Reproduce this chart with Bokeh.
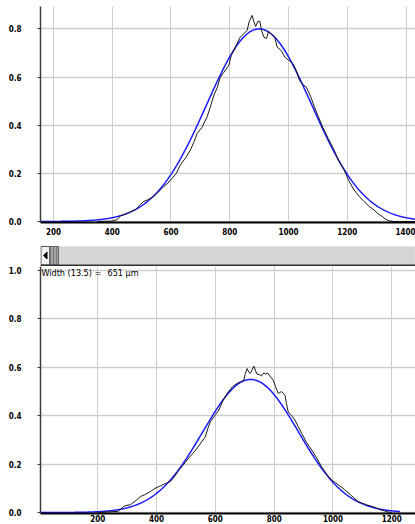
import numpy as np
from bokeh.plotting import figure
from bokeh.layouts import column
from bokeh.models import Range1d, FixedTicker, Label, NumeralTickFormatter
from bokeh.embed import file_html
from bokeh.resources import INLINE

# ---- upper profile: measured trace (position in µm, normalised intensity)
upper_pos = [350, 400, 417, 428, 445, 462, 480, 495, 507, 520, 541, 555, 575, 590,
             604, 618, 632, 650, 666, 678, 689, 705, 723, 735, 746, 757, 768, 780,
             797, 805, 814, 825, 836, 848, 859, 866, 876, 882, 888, 895, 902, 909,
             916, 925, 932, 939, 953, 961, 975, 987, 1000, 1015, 1025, 1037, 1048,
             1060, 1075, 1088, 1100, 1116, 1135, 1155, 1170, 1189, 1205, 1223, 1240,
             1257, 1275, 1291, 1305, 1319, 1330, 1342, 1360, 1440]
upper_val = [0.0, 0.002, 0.008, 0.024, 0.03, 0.041, 0.05, 0.07, 0.083, 0.09, 0.104,
             0.12, 0.145, 0.16, 0.18, 0.2, 0.235, 0.265, 0.297, 0.33, 0.366, 0.39,
             0.435, 0.48, 0.525, 0.555, 0.6, 0.62, 0.649, 0.69, 0.711, 0.74, 0.766,
             0.78, 0.794, 0.83, 0.856, 0.83, 0.81, 0.83, 0.832, 0.79, 0.766, 0.76,
             0.79, 0.78, 0.766, 0.725, 0.71, 0.683, 0.67, 0.656, 0.63, 0.587, 0.57,
             0.559, 0.52, 0.476, 0.44, 0.393, 0.345, 0.297, 0.255, 0.214, 0.17,
             0.131, 0.105, 0.083, 0.062, 0.048, 0.032, 0.021, 0.01, 0.003, 0.0, 0.0]
# gaussian fit of the upper profile
upper_fit_peak = 0.80
upper_fit_center = 900
upper_fit_width = 715          # full width at 13.5 % of peak
upper_fit_span = (150, 1440)

# ---- lower profile
lower_pos = [200, 270, 288, 300, 311, 330, 345, 362, 379, 395, 413, 430, 447, 462,
             476, 490, 504, 520, 538, 552, 566, 575, 583, 598, 612, 625, 640, 658,
             674, 685, 697, 702, 708, 714, 719, 725, 731, 737, 742, 750, 757, 765,
             771, 777, 785, 797, 805, 814, 825, 837, 842, 848, 860, 871, 882, 894,
             910, 928, 945, 961, 978, 995, 1018, 1040, 1063, 1086, 1115, 1142, 1160,
             1173, 1185, 1200]
lower_val = [0.0, 0.005, 0.025, 0.03, 0.032, 0.05, 0.066, 0.075, 0.087, 0.1, 0.11,
             0.12, 0.128, 0.15, 0.176, 0.195, 0.217, 0.24, 0.266, 0.29, 0.313, 0.35,
             0.375, 0.4, 0.424, 0.46, 0.492, 0.52, 0.534, 0.54, 0.547, 0.575, 0.595,
             0.58, 0.575, 0.59, 0.605, 0.585, 0.572, 0.57, 0.565, 0.577, 0.572,
             0.577, 0.565, 0.547, 0.52, 0.492, 0.5, 0.485, 0.45, 0.416, 0.4, 0.382,
             0.355, 0.327, 0.29, 0.258, 0.225, 0.19, 0.16, 0.135, 0.115, 0.094, 0.07,
             0.045, 0.032, 0.022, 0.012, 0.008, 0.003, 0.0]
lower_fit_peak = 0.55
lower_fit_center = 720
lower_fit_width = 651          # full width at 13.5 % of peak (label value)
lower_fit_span = (0, 1228)

# ---- ticks
upper_x_ticks = [200, 400, 600, 800, 1000, 1200, 1400]
upper_y_ticks = [0.0, 0.2, 0.4, 0.6, 0.8]
lower_x_ticks = [200, 400, 600, 800, 1000, 1200]
lower_y_ticks = [0.0, 0.2, 0.4, 0.6, 0.8, 1.0]

width_label = "Width (13.5) ="
width_value = "651 µm"

NARROW = "'DejaVu Sans Condensed', sans-serif"


def fit_curve(peak, center, w135, span):
    sigma = w135 / 4.0
    xs = np.linspace(span[0], span[1], 600)
    return xs, peak * np.exp(-((xs - center) ** 2) / (2 * sigma ** 2))


def style(p, xt, yt):
    p.xaxis.ticker = FixedTicker(ticks=xt)
    p.yaxis.ticker = FixedTicker(ticks=yt)
    p.yaxis.formatter = NumeralTickFormatter(format="0.0")
    p.xaxis.major_tick_line_color = None
    p.xaxis.minor_tick_line_color = None
    p.xaxis.major_tick_out = 0
    p.xaxis.major_tick_in = 0
    p.xaxis.minor_tick_out = 0
    p.xaxis.axis_line_color = "black"
    p.xaxis.axis_line_width = 2
    p.yaxis.axis_line_color = "#3c3c3c"
    p.yaxis.axis_line_width = 1.5
    p.yaxis.major_tick_line_color = "#3c3c3c"
    p.yaxis.major_tick_out = 3
    p.yaxis.major_tick_in = 0
    p.yaxis.minor_tick_line_color = None
    p.yaxis.major_label_standoff = 16
    for ax in (p.xaxis, p.yaxis):
        ax.major_label_text_font = NARROW
        ax.major_label_text_font_size = "8px"
        ax.major_label_text_font_style = "bold"
        ax.major_label_text_color = "black"
    p.xgrid.grid_line_color = "#cdcdcd"
    p.xgrid.grid_line_width = 1
    p.ygrid.grid_line_color = "#cdcdcd"
    p.ygrid.grid_line_width = 1.5
    p.outline_line_color = None
    p.background_fill_color = "white"
    p.border_fill_color = "white"


# ---- upper chart
top = figure(width=415, height=245, x_range=Range1d(156, 1432),
             y_range=Range1d(-0.004, 0.893), min_border_left=40, min_border_right=0,
             min_border_top=6, min_border_bottom=23, toolbar_location=None,
             output_backend="svg")
style(top, upper_x_ticks, upper_y_ticks)
top.xaxis.major_label_standoff = 5
fx, fy = fit_curve(upper_fit_peak, upper_fit_center, upper_fit_width, upper_fit_span)
top.line(fx, fy, color="#1a1aff", line_width=1.5)
top.line(upper_pos, upper_val, color="#1a1a1a", line_width=1)

# ---- scroll bar strip between the two charts (pixel coordinates)
bar = figure(width=415, height=21, x_range=Range1d(40, 415), y_range=Range1d(21, 0),
             x_axis_type=None, y_axis_type=None, min_border=0, min_border_left=40,
             min_border_right=0, toolbar_location=None, output_backend="svg")
bar.outline_line_color = None
bar.quad(left=40, right=415, top=1, bottom=19.5, fill_color="#d8d8d8", line_color=None,
         hatch_pattern="dot", hatch_color="#c4c4c4", hatch_scale=3)
bar.quad(left=40.5, right=49, top=1, bottom=19.5, fill_color="#f2f2f2",
         line_color="#555555", line_width=1)
bar.patch([43, 46.5, 46.5], [10, 6.5, 13.5], color="black")
bar.quad(left=49, right=58, top=1, bottom=19.5, fill_color="#a4a4a4",
         line_color="#666666", line_width=1, hatch_pattern="vertical_line",
         hatch_color="#7a7a7a", hatch_scale=3)
bar.segment(x0=40, y0=20, x1=415, y1=20, color="#333333", line_width=2)

# ---- lower chart
bot = figure(width=415, height=258, x_range=Range1d(5, 1281),
             y_range=Range1d(-0.004, 1.017), min_border_left=40, min_border_right=0,
             min_border_top=0, min_border_bottom=11, toolbar_location=None,
             output_backend="svg")
style(bot, lower_x_ticks, lower_y_ticks)
bot.xaxis.major_label_standoff = 1
gx, gy = fit_curve(lower_fit_peak, lower_fit_center, lower_fit_width, lower_fit_span)
bot.line(gx, gy, color="#1a1aff", line_width=1.5)
bot.line(lower_pos, lower_val, color="#1a1a1a", line_width=1)

bot.add_layout(Label(x=5, y=1.017, x_offset=1, y_offset=-1, text=width_label,
                     text_baseline="top", text_font=NARROW, text_font_size="9px",
                     text_color="black"))
bot.add_layout(Label(x=5, y=1.017, x_offset=67, y_offset=-1, text=width_value,
                     text_baseline="top", text_font=NARROW, text_font_size="9px",
                     text_color="black"))

layout = column(top, bar, bot, spacing=0)
open("out.html", "w").write(file_html(layout, INLINE))
